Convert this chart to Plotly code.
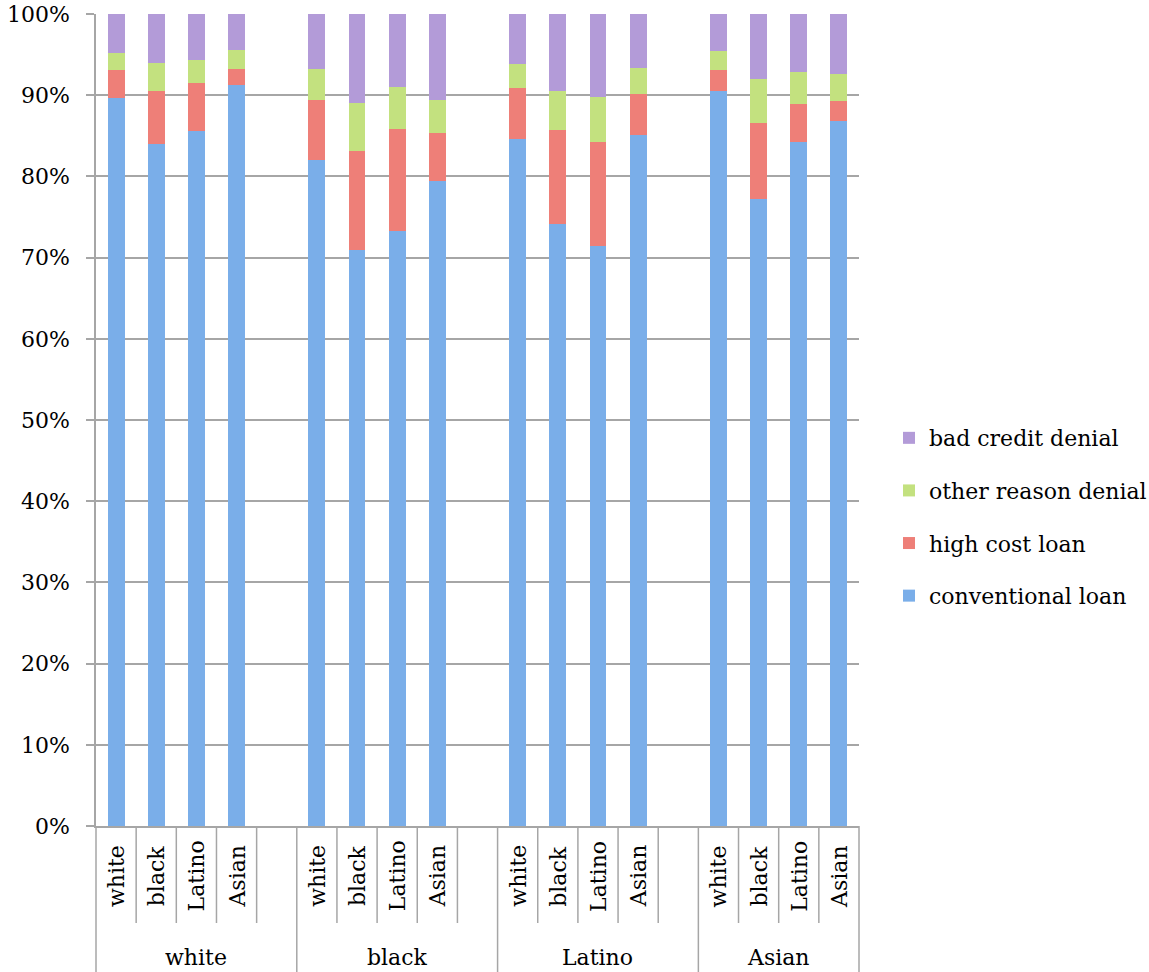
import plotly.graph_objects as go

groups = ["white", "black", "Latino", "Asian"]
subcats = ["white", "black", "Latino", "Asian"]

# values per group (outer) x subcategory (inner), in percent
conventional = [89.6, 84.0, 85.6, 91.2,
                82.0, 70.9, 73.3, 79.4,
                84.6, 74.2, 71.4, 85.1,
                90.5, 77.2, 84.2, 86.8]
high_cost = [3.5, 6.5, 5.9, 2.0,
             7.4, 12.2, 12.5, 5.9,
             6.3, 11.5, 12.8, 5.1,
             2.6, 9.4, 4.7, 2.5]
other_denial = [2.1, 3.5, 2.8, 2.4,
                3.8, 5.9, 5.2, 4.1,
                3.0, 4.8, 5.6, 3.1,
                2.3, 5.4, 3.9, 3.3]
bad_credit = [4.8, 6.0, 5.7, 4.4,
              6.8, 11.0, 9.0, 10.6,
              6.1, 9.5, 10.2, 6.7,
              4.6, 8.0, 7.2, 7.4]

series = [
    ("conventional loan", conventional, "#7aaee9"),
    ("high cost loan", high_cost, "#ee7f78"),
    ("other reason denial", other_denial, "#c3e17f"),
    ("bad credit denial", bad_credit, "#b39bd8"),
]

FONT = "DejaVu Serif"
FS = 22
SLOTS_PER_GROUP = 5  # 4 bars + 1 empty spacer slot
n_slots = SLOTS_PER_GROUP * (len(groups) - 1) + len(subcats)

xpos = []
for g in range(len(groups)):
    for i in range(len(subcats)):
        xpos.append(g * SLOTS_PER_GROUP + i)

fig = go.Figure()
for k, (name, vals, col) in enumerate(series):
    fig.add_trace(go.Bar(
        x=xpos, y=vals, name=name,
        marker=dict(color=col, line=dict(width=0)),
        legendgroup=name, legendrank=len(series) - k,
    ))

# separators under the axis (category boxes)
shapes = []
short_y = -(923 - 826) / 812
long_y = -(972 - 826) / 812
group_edges = [g * SLOTS_PER_GROUP for g in range(len(groups))] + [n_slots]
for k in range(n_slots + 1):
    xp = k / n_slots
    y1 = long_y if k in group_edges else short_y
    shapes.append(dict(type="line", xref="paper", yref="paper",
                       x0=xp, x1=xp, y0=0, y1=y1,
                       line=dict(color="#a6a6a6", width=1.5)))

annotations = []
for idx, x in enumerate(xpos):
    annotations.append(dict(
        x=x, y=-(876 - 826) / 812, xref="x", yref="paper",
        text=subcats[idx % len(subcats)], showarrow=False, textangle=-90,
        xanchor="center", yanchor="middle",
        font=dict(family=FONT, size=FS, color="black")))
for g, gname in enumerate(groups):
    left = group_edges[g]
    right = group_edges[g + 1]
    center = (left + right) / 2 - 0.5
    annotations.append(dict(
        x=center, y=-(958 - 826) / 812, xref="x", yref="paper",
        text=gname, showarrow=False, xanchor="center", yanchor="middle",
        font=dict(family=FONT, size=FS, color="black")))

fig.update_layout(
    width=1149, height=972,
    margin=dict(l=96, r=290, t=14, b=146, autoexpand=False),
    barmode="stack", bargap=0.58,
    plot_bgcolor="white", paper_bgcolor="white",
    font=dict(family=FONT, size=FS, color="black"),
    shapes=shapes, annotations=annotations,
    legend=dict(
        traceorder="grouped", tracegroupgap=21,
        x=889 / 1149, xref="container", xanchor="left",
        y=0.3805, yanchor="middle",
        font=dict(family=FONT, size=FS, color="black"),
        itemwidth=30, bgcolor="rgba(0,0,0,0)",
    ),
    xaxis=dict(range=[-0.5, n_slots - 0.5], showticklabels=False,
               showgrid=False, zeroline=False, showline=True,
               linecolor="#a6a6a6", linewidth=1.5, ticks="",
               automargin=False),
    yaxis=dict(range=[0, 100], dtick=10, ticksuffix="%",
               showgrid=True, gridcolor="#a6a6a6", gridwidth=1.5,
               zeroline=False, showline=True, linecolor="#a6a6a6",
               linewidth=1.5, ticks="outside", ticklen=8,
               tickcolor="#a6a6a6", tickwidth=1.5, ticklabelstandoff=12,
               automargin=False,
               tickfont=dict(family=FONT, size=FS, color="black")),
)

fig.write_html("out.html")
